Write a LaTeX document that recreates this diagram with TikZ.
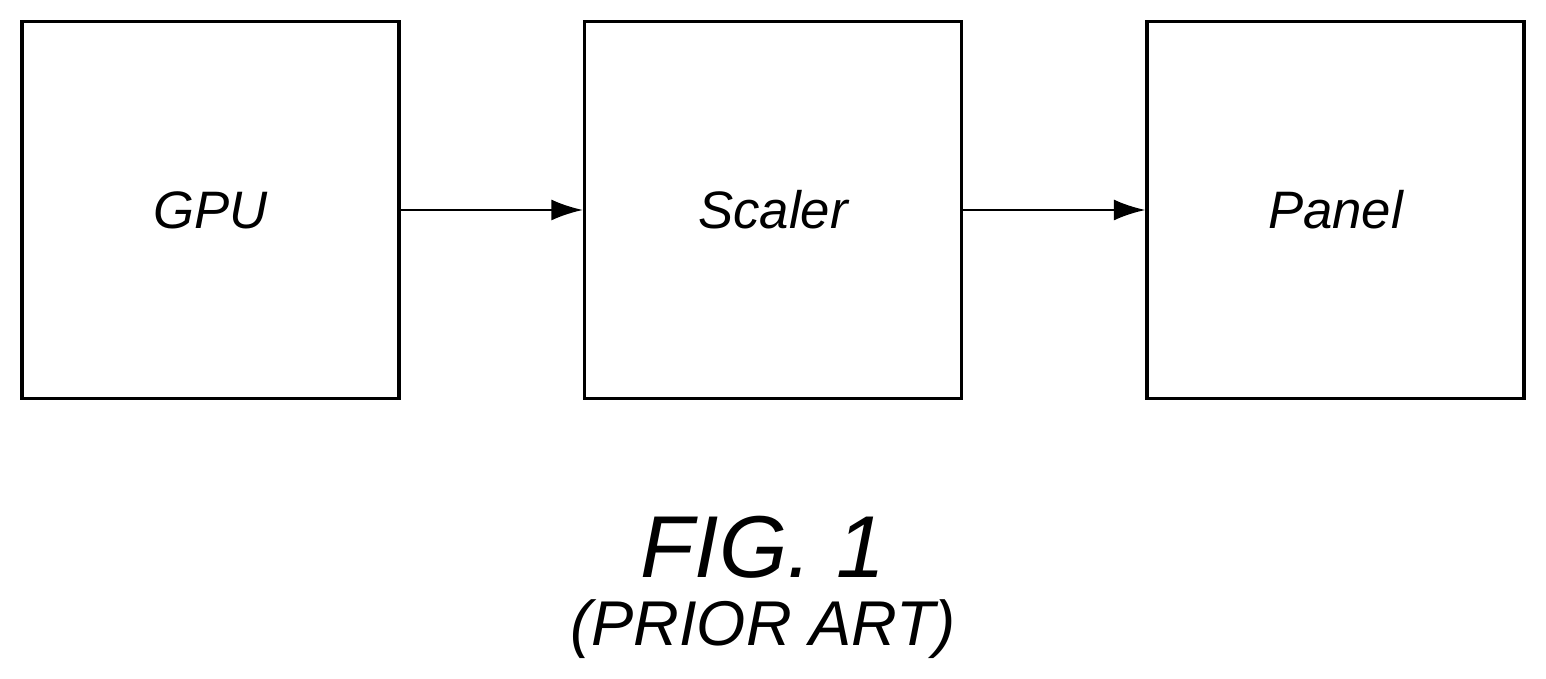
\documentclass[tikz,border=0pt]{standalone}
\usepackage{fontspec}
\setmainfont{Liberation Sans}
\usetikzlibrary{arrows.meta}

\begin{document}
\begin{tikzpicture}[
    block/.style={rectangle, draw=black, line width=0.9pt, fill=white,
        minimum size=3.77cm, inner sep=0pt, font=\fontsize{15}{18}\selectfont\itshape},
    link/.style={line width=0.7pt, -{Latex[length=9pt,width=6pt]}}
]
    \useasboundingbox (0,0) rectangle (15.46,6.79);
    \node[block] (gpu) at (2.105,4.69) {GPU};
    \node[block] (scaler) at (7.73,4.69) {Scaler};
    \node[block] (panel) at (13.355,4.69) {Panel};
    \draw[link] (gpu) -- (scaler);
    \draw[link] (scaler) -- (panel);
    \node[font=\fontsize{25}{30}\selectfont\itshape] (fig) at (7.63,1.32) {FIG. 1};
    \node[font=\fontsize{18}{22}\selectfont\itshape] (prior) at (7.63,0.5) {(PRIOR ART)};
\end{tikzpicture}
\end{document}
